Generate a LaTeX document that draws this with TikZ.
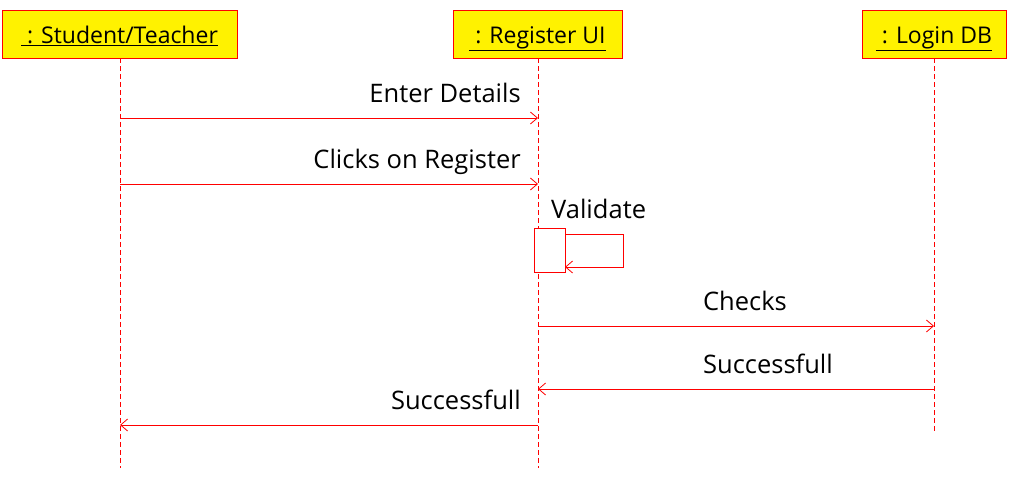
\documentclass[tikz,border=0pt]{standalone}
\usepackage{fontspec}
\setmainfont{Open Sans}
\usetikzlibrary{arrows.meta}
\tikzset{
  obj/.style={draw=red, fill=yellow, line width=0.8pt, inner sep=0pt, anchor=north west},
  life/.style={draw=red, line width=0.8pt, dash pattern=on 5pt off 3pt},
  msg/.style={draw=red, line width=0.8pt, -{Straight Barb[length=7pt,width=12pt]}},
  lbl/.style={font=\fontsize{25.5}{30}\selectfont, inner sep=0pt},
  hlbl/.style={font=\fontsize{23}{27}\selectfont, inner sep=0pt, anchor=base},
  actbox/.style={draw=red, fill=white, line width=0.8pt}
}
\begin{document}
\begin{tikzpicture}[x=1pt,y=-1pt]
\useasboundingbox (0,0) rectangle (1012,477);
% objects
\node[obj, minimum width=235pt, minimum height=48pt] (st) at (2,10) {};
\node[hlbl] (stl) at (119.5,43) {\underline{\ : Student/Teacher}};
\node[obj, minimum width=169pt, minimum height=48pt] (ui) at (453,10) {};
\node[hlbl] (uil) at (537.5,43) {\underline{\ : Register UI}};
\node[obj, minimum width=144pt, minimum height=48pt] (db) at (862,10) {};
\node[hlbl] (dbl) at (934,43) {\underline{\ : Login DB}};
% lifeline ends
\coordinate (stT) at (120,58);
\coordinate (stB) at (120,468);
\coordinate (uiT) at (538,58);
\coordinate (uiB) at (538,468);
\coordinate (dbT) at (934,58);
\coordinate (dbB) at (934,433);
\draw[life] (stT) -- (stB);
\draw[life] (uiT) -- (uiB);
\draw[life] (dbT) -- (dbB);
% messages
\coordinate (m1a) at (120,118); \coordinate (m1b) at (538,118);
\draw[msg] (m1a) -- (m1b);
\node[lbl, anchor=base east] (l1) at (521,102) {Enter Details};
\coordinate (m2a) at (120,184); \coordinate (m2b) at (538,184);
\draw[msg] (m2a) -- (m2b);
\node[lbl, anchor=base east] (l2) at (521,168) {Clicks on Register};
% activation + self message
\node[actbox, minimum width=31pt, minimum height=44pt, anchor=north west, inner sep=0pt] (act) at (534,228) {};
\node[lbl, anchor=base west] (l3) at (551,218) {Validate};
\coordinate (s1) at (565,234); \coordinate (s2) at (623,234);
\coordinate (s3) at (623,267); \coordinate (s4) at (565,267);
\draw[msg] (s1) -- (s2) -- (s3) -- (s4);
\coordinate (m4a) at (538,326); \coordinate (m4b) at (934,326);
\draw[msg] (m4a) -- (m4b);
\node[lbl, anchor=base] (l4) at (745,310) {Checks};
\coordinate (m5a) at (934,389); \coordinate (m5b) at (538,389);
\draw[msg] (m5a) -- (m5b);
\node[lbl, anchor=base] (l5) at (768,373) {Successfull};
\coordinate (m6a) at (538,425); \coordinate (m6b) at (120,425);
\draw[msg] (m6a) -- (m6b);
\node[lbl, anchor=base east] (l6) at (521,409) {Successfull};
\end{tikzpicture}
\end{document}
